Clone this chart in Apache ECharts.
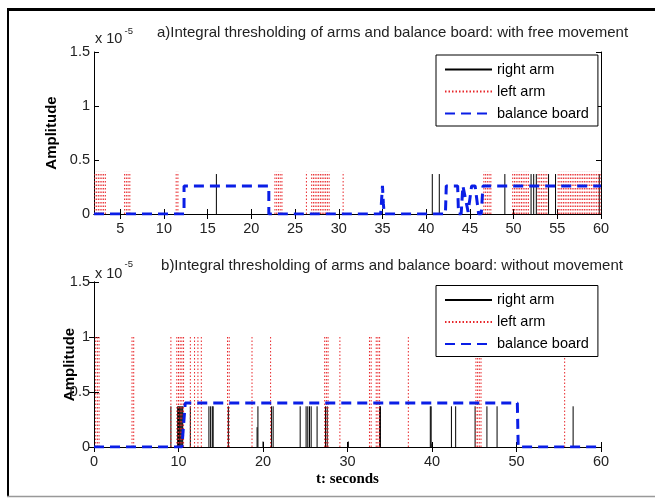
<!DOCTYPE html>
<html><head><meta charset="utf-8">
<script src="https://cdn.jsdelivr.net/npm/echarts@6/dist/echarts.min.js"></script>
<style>html,body{margin:0;background:#fff}#c{width:655px;height:500px}</style>
</head><body><div id="c"></div>
<script>
// ---- data (amplitudes in units of 1e-5) ----
const xTicksA = [5,10,15,20,25,30,35,40,45,50,55,60];
const xTicksB = [0,10,20,30,40,50,60];
const yTicks = [0,0.5,1,1.5];
const legendNames = ['right arm','left arm','balance board'];

const rightArmA = [16, 40.7, 41.5, 49.0, 52.0, 52.3, 52.6, 54.0, 54.8, 59.8];
const rightArmAHeight = 0.37;
const leftArmA = [2.1,2.3,2.5,2.7,2.9,3.1,3.3, 5.5,5.7,5.9,6.1, 11.4,11.6,
  22.7,22.9,23.1,23.3,23.5, 26.3,
  26.9,27.1,27.3,27.5,27.7,27.9,28.1,28.3,28.5,28.7,28.9, 30.5,
  46.6,46.8,47.0,47.2,47.4,
  49.9,50.1,50.3,50.5,50.7,50.9,51.1,51.3,51.5,51.7,
  52.8,53.0,53.2,53.4,53.6,53.8,
  55.1,55.3,55.5,55.7,55.9,56.1,56.3,56.5,56.7,56.9,57.1,57.3,57.5,57.7,57.9,
  58.1,58.3,58.5,58.7,58.9,59.1,59.3,59.5,59.7,59.9];
const leftArmAHeight = 0.39;
const balanceA = [[2,0],[12.3,0],[12.3,0.26],[22,0.26],[22,0],[34.8,0],[34.9,0.13],[35.0,0.26],
  [35.1,0.1],[35.2,0],[42.2,0],[42.3,0.26],[43.6,0.26],[43.7,0],[44.0,0],[44.2,0.26],[44.4,0.26],
  [44.8,0.02],[45.0,0.02],[45.2,0.26],[45.6,0.26],[46.0,0],[46.3,0],[46.5,0.26],[60,0.26]];

const rightArmB = [9.1, 9.9,10.0,10.1,10.2,10.3,10.4,10.5, 11.4, 13.6,13.8,14.0,14.1, 15.9, 19.4,
  21.0,21.2, 24.4, 25.1,25.3,25.5,25.7, 26.4, 27.4,27.6, 33.8,33.9, 39.8,39.9, 42.3,42.8,
  45.1, 46.5, 47.7, 56.7];
const rightArmBHeight = 0.37;
const rightArmBShort = [[19.3,0.18],[20.0,0.05],[30.1,0.05],[40.0,0.03]];
const leftArmB = [0.2,0.4,0.6, 4.5,4.7, 9.1, 9.8,10.0,10.2,10.4,10.6, 11.4,11.9,12.3,12.7,
  15.8,16.0, 18.7, 20.9, 27.3,27.5,27.7, 29.1, 32.6,32.8, 33.4,33.6,33.8, 37.2,
  45.2,45.4,45.6,45.8, 55.7];
const leftArmBHeight = 1.0;
const balanceB = [[0,0],[10.4,0],[10.8,0.4],[50.1,0.4],[50.2,0],[60,0]];

// ---- helpers ----
function spikes(times, h) {
  const d = [];
  times.forEach(t => { d.push([t, 0], [t, h], [t, '-']); });
  return d;
}
function spikesPairs(pairs) {
  const d = [];
  pairs.forEach(p => { d.push([p[0], 0], [p[0], p[1]], [p[0], '-']); });
  return d;
}

const FONT = 'Arial, "Liberation Sans", sans-serif';
const axisLineS = {show: true, lineStyle: {color: '#000', width: 1}};
function xAxisDef(grid, pos, min, max, ticks, showLabel, extra) {
  return Object.assign({
    type: 'value', gridIndex: grid, position: pos, min: min, max: max,
    axisLine: axisLineS,
    axisTick: {show: true, inside: true, length: 5, customValues: ticks, lineStyle: {color: '#000'}},
    axisLabel: {show: showLabel, customValues: ticks, color: '#222', fontSize: 14.5, fontFamily: FONT, margin: 7},
    splitLine: {show: false}
  }, extra || {});
}
function yAxisDef(grid, pos, showLabel, extra) {
  return Object.assign({
    type: 'value', gridIndex: grid, position: pos, min: 0, max: 1.5, interval: 0.5,
    axisLine: axisLineS,
    axisTick: {show: true, inside: true, length: 5, lineStyle: {color: '#000'}},
    axisLabel: {show: showLabel, color: '#222', fontSize: 14.5, fontFamily: FONT, margin: 4,
      formatter: v => String(v)},
    splitLine: {show: false}
  }, extra || {});
}

const BLACK = {color: '#000', width: 1, type: 'solid'};
const RED = {color: '#e8262a', width: 1, type: [1.5, 2]};
const BLUE = {color: '#0a1ee6', width: 3, type: [10, 6]};

function lineSeries(name, xi, data, ls, z) {
  return {type: 'line', name: name, xAxisIndex: xi, yAxisIndex: xi, data: data,
    symbol: 'none', lineStyle: ls, itemStyle: {color: ls.color}, z: z,
    silent: true, animation: false, connectNulls: false};
}

const legendBase = {
  orient: 'vertical', left: 436, itemWidth: 47, itemHeight: 14, itemGap: 7,
  padding: [7, 9, 5, 8], borderColor: '#000', borderWidth: 1, borderRadius: 0,
  backgroundColor: '#fff', data: legendNames, selectedMode: false,
  itemStyle: {opacity: 0},
  textStyle: {fontSize: 14.5, fontFamily: FONT, color: '#000', padding: [0,0,0,0]}
};
const nameStyle = {fontWeight: 'bold', fontSize: 15, fontFamily: FONT, color: '#000'};

const chart = echarts.init(document.getElementById('c'), null, {renderer: 'canvas'});
chart.setOption({
  backgroundColor: '#fff',
  animation: false,
  grid: [
    {left: 94, right: 54, top: 52, bottom: 286},
    {left: 94, right: 54, top: 282, bottom: 53}
  ],
  xAxis: [
    xAxisDef(0, 'bottom', 2, 60, xTicksA, true),
    xAxisDef(1, 'bottom', 0, 60, xTicksB, true, {
      name: 't: seconds', nameLocation: 'middle', nameGap: 25, nameMoveOverlap: false,
      nameTextStyle: {fontFamily: '"Liberation Serif", "Times New Roman", serif', fontWeight: 'bold', fontSize: 15, color: '#000'}
    }),
    xAxisDef(0, 'top', 2, 60, xTicksA, false),
    xAxisDef(1, 'top', 0, 60, xTicksB, false)
  ],
  yAxis: [
    yAxisDef(0, 'left', true, {name: 'Amplitude', nameLocation: 'middle', nameGap: 35,
      nameMoveOverlap: false, nameTextStyle: nameStyle}),
    yAxisDef(1, 'left', true, {name: 'Amplitude', nameLocation: 'middle', nameGap: 17,
      nameMoveOverlap: false, nameTextStyle: nameStyle}),
    yAxisDef(0, 'right', false),
    yAxisDef(1, 'right', false)
  ],
  legend: [
    Object.assign({}, legendBase, {top: 55}),
    Object.assign({}, legendBase, {top: 285.5})
  ],
  series: [
    lineSeries('right arm', 0, spikes(rightArmA, rightArmAHeight), BLACK, 2),
    lineSeries('left arm', 0, spikes(leftArmA, leftArmAHeight), RED, 3),
    lineSeries('balance board', 0, balanceA, BLUE, 4),
    lineSeries('right arm', 1, spikes(rightArmB, rightArmBHeight).concat(spikesPairs(rightArmBShort)), BLACK, 2),
    lineSeries('left arm', 1, spikes(leftArmB, leftArmBHeight), RED, 3),
    lineSeries('balance board', 1, balanceB, BLUE, 4)
  ],
  graphic: [
    {type: 'line', shape: {x1: 7, y1: 9.5, x2: 655, y2: 9.5}, style: {stroke: '#000', lineWidth: 3}, silent: true},
    {type: 'line', shape: {x1: 8, y1: 8, x2: 8, y2: 497}, style: {stroke: '#000', lineWidth: 2}, silent: true},
    {type: 'line', shape: {x1: 7, y1: 496.5, x2: 655, y2: 496.5}, style: {stroke: '#999', lineWidth: 1.5}, silent: true},
    {type: 'text', style: {x: 392.5, y: 33, text: 'a)Integral thresholding of arms and balance board: with free movement',
      textAlign: 'center', textVerticalAlign: 'middle', font: '15px ' + FONT, fill: '#222'}, silent: true},
    {type: 'text', style: {x: 392, y: 266, text: 'b)Integral thresholding of arms and balance board: without movement',
      textAlign: 'center', textVerticalAlign: 'middle', font: '15px ' + FONT, fill: '#222'}, silent: true},
    {type: 'text', style: {x: 95, y: 39, text: 'x 10', textAlign: 'left', textVerticalAlign: 'middle', font: '14.5px ' + FONT, fill: '#222'}, silent: true},
    {type: 'text', style: {x: 124.5, y: 31, text: '-5', textAlign: 'left', textVerticalAlign: 'middle', font: '9.5px ' + FONT, fill: '#222'}, silent: true},
    {type: 'text', style: {x: 95, y: 273.5, text: 'x 10', textAlign: 'left', textVerticalAlign: 'middle', font: '14.5px ' + FONT, fill: '#222'}, silent: true},
    {type: 'text', style: {x: 124.5, y: 264, text: '-5', textAlign: 'left', textVerticalAlign: 'middle', font: '9.5px ' + FONT, fill: '#222'}, silent: true}
  ]
});
</script></body></html>
